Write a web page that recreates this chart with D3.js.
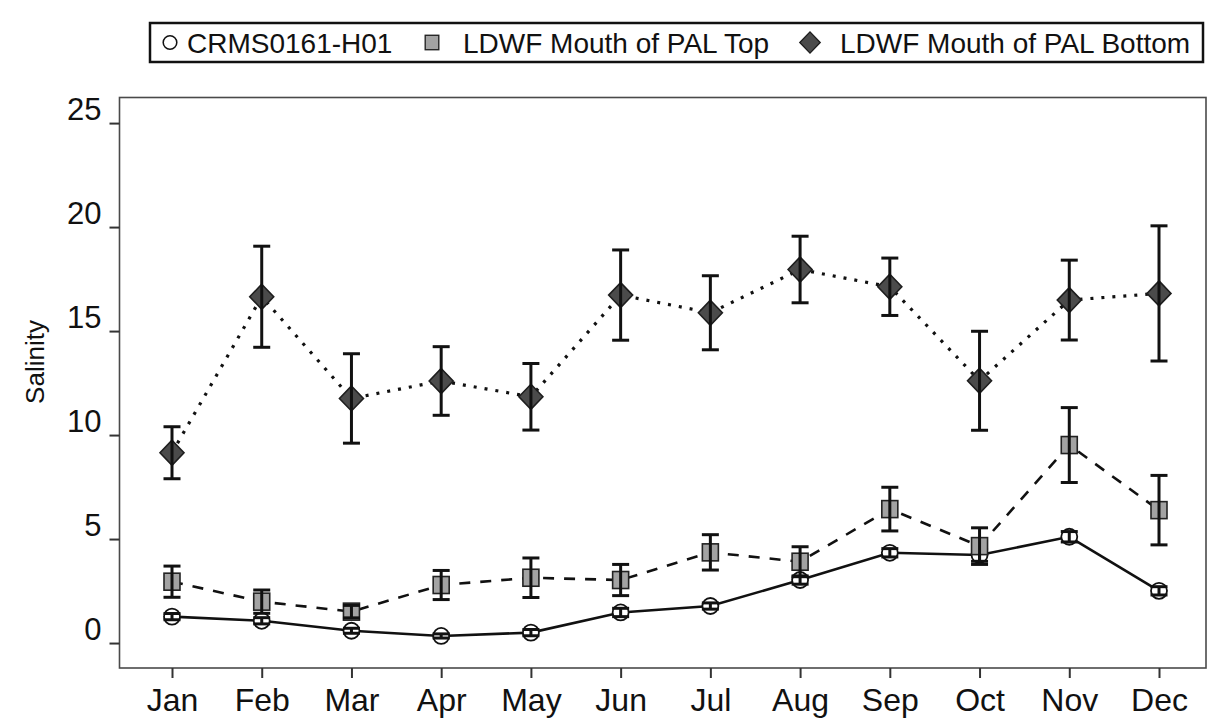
<!DOCTYPE html>
<html>
<head>
<meta charset="utf-8">
<script src="https://cdn.jsdelivr.net/npm/d3@7/dist/d3.min.js"></script>
<style>
  html, body { margin: 0; padding: 0; background: #fff; }
  svg { display: block; font-family: "Liberation Sans", Arial, sans-serif; }
</style>
</head>
<body>
<svg id="chart" width="1207" height="721"></svg>
<script>
// Monthly mean salinity with standard error bars
const months = ["Jan", "Feb", "Mar", "Apr", "May", "Jun", "Jul", "Aug", "Sep", "Oct", "Nov", "Dec"];

const crmsMean = [1.27, 1.07, 0.59, 0.34, 0.50, 1.47, 1.78, 3.03, 4.34, 4.23, 5.11, 2.51];
const crmsErr  = [0.15, 0.15, 0.12, 0.10, 0.15, 0.20, 0.15, 0.20, 0.20, 0.30, 0.25, 0.20];

const topMean = [2.95, 1.99, 1.51, 2.79, 3.14, 3.03, 4.36, 3.91, 6.44, 4.66, 9.52, 6.39];
const topErr  = [0.75, 0.56, 0.30, 0.70, 0.95, 0.75, 0.85, 0.72, 1.05, 0.88, 1.80, 1.67];

const bottomMean = [9.15, 16.65, 11.76, 12.60, 11.84, 16.73, 15.88, 17.96, 17.13, 12.61, 16.49, 16.81];
const bottomErr  = [1.25, 2.43, 2.15, 1.65, 1.60, 2.17, 1.78, 1.60, 1.38, 2.38, 1.92, 3.25];

const yTicks = [0, 5, 10, 15, 20, 25];

const seriesNames = ["CRMS0161-H01", "LDWF Mouth of PAL Top", "LDWF Mouth of PAL Bottom"];

const svg = d3.select("#chart");

const frame = { left: 119.5, right: 1206, top: 97.5, bottom: 668 };

const x = d3.scalePoint().domain(months).range([172, 1159]);
const y = d3.scaleLinear().domain([-1.2, 26.23]).range([frame.bottom, frame.top]);

// plot frame
svg.append("rect")
  .attr("x", frame.left).attr("y", frame.top)
  .attr("width", frame.right - frame.left).attr("height", frame.bottom - frame.top)
  .attr("fill", "none").attr("stroke", "#4a4a4a").attr("stroke-width", 1.6);

// axes
const yAxis = svg.append("g")
  .attr("transform", `translate(${frame.left},0)`)
  .call(d3.axisLeft(y).tickValues(yTicks).tickSize(10).tickPadding(8).tickFormat(d3.format("d")));
yAxis.select(".domain").remove();
yAxis.selectAll(".tick line").attr("stroke", "#333").attr("stroke-width", 2);
yAxis.selectAll(".tick text")
  .attr("font-size", 31).attr("fill", "#111").attr("dy", "-0.12em")
  .attr("font-family", "Liberation Sans, Arial, sans-serif");

const xAxis = svg.append("g")
  .attr("transform", `translate(0,${frame.bottom})`)
  .call(d3.axisBottom(x).tickSize(10).tickPadding(10));
xAxis.select(".domain").remove();
xAxis.selectAll(".tick line").attr("stroke", "#333").attr("stroke-width", 2);
xAxis.selectAll(".tick text")
  .attr("font-size", 32).attr("fill", "#111")
  .attr("font-family", "Liberation Sans, Arial, sans-serif");

// y-axis title
svg.append("text")
  .attr("transform", "translate(44,362) rotate(-90)")
  .attr("text-anchor", "middle")
  .attr("font-size", 26).attr("fill", "#111")
  .text("Salinity");

const series = [
  { name: seriesNames[0], mean: crmsMean, err: crmsErr, dash: null, shape: "circle" },
  { name: seriesNames[1], mean: topMean, err: topErr, dash: "11,10", shape: "square" },
  { name: seriesNames[2], mean: bottomMean, err: bottomErr, dash: "3,8", shape: "diamond" }
];

const line = d3.line().x(d => x(d.m)).y(d => y(d.v));

function drawMarker(g, shape) {
  if (shape === "circle") {
    g.append("circle").attr("r", 8).attr("fill", "#fff").attr("stroke", "#111").attr("stroke-width", 1.8);
  } else if (shape === "square") {
    g.append("rect").attr("x", -8).attr("y", -8.5).attr("width", 16).attr("height", 17)
      .attr("fill", "#a3a3a3").attr("stroke", "#222").attr("stroke-width", 1.6);
  } else {
    g.append("path").attr("d", "M0,-12.5L12,0L0,12.5L-12,0Z")
      .attr("fill", "#4b4b4b").attr("stroke", "#1e1e1e").attr("stroke-width", 1.6);
  }
}

series.forEach(s => {
  const pts = months.map((m, i) => ({ m, v: s.mean[i], e: s.err[i] }));
  const g = svg.append("g");

  g.append("path").datum(pts)
    .attr("d", line)
    .attr("fill", "none").attr("stroke", "#111")
    .attr("stroke-width", s.shape === "diamond" ? 3.2 : 2.6)
    .attr("stroke-dasharray", s.dash);

  const markers = g.selectAll(".mk").data(pts).enter().append("g")
    .attr("transform", d => `translate(${x(d.m)},${y(d.v)})`);
  markers.each(function () { drawMarker(d3.select(this), s.shape); });

  // error bars with caps, drawn over the markers
  const eb = g.selectAll(".eb").data(pts).enter().append("g");
  eb.append("line")
    .attr("x1", d => x(d.m)).attr("x2", d => x(d.m))
    .attr("y1", d => y(d.v + d.e)).attr("y2", d => y(d.v - d.e))
    .attr("stroke", "#111").attr("stroke-width", 3);
  [1, -1].forEach(sg => {
    eb.append("line")
      .attr("x1", d => x(d.m) - 8.5).attr("x2", d => x(d.m) + 8.5)
      .attr("y1", d => y(d.v + sg * d.e)).attr("y2", d => y(d.v + sg * d.e))
      .attr("stroke", "#111").attr("stroke-width", 3);
  });
});

// legend
const leg = svg.append("g");
leg.append("rect")
  .attr("x", 150).attr("y", 23).attr("width", 1053).attr("height", 39)
  .attr("fill", "#fff").attr("stroke", "#111").attr("stroke-width", 2.5);

const legItems = [
  { shape: "circle", mx: 170, tx: 187 },
  { shape: "square", mx: 432, tx: 463 },
  { shape: "diamond", mx: 810, tx: 840 }
];
legItems.forEach((it, i) => {
  const mg = leg.append("g").attr("transform", `translate(${it.mx},42.5) scale(0.85)`);
  drawMarker(mg, it.shape);
  leg.append("text")
    .attr("x", it.tx).attr("y", 52.5)
    .attr("font-size", 28).attr("fill", "#111")
    .text(seriesNames[i]);
});
</script>
</body>
</html>
